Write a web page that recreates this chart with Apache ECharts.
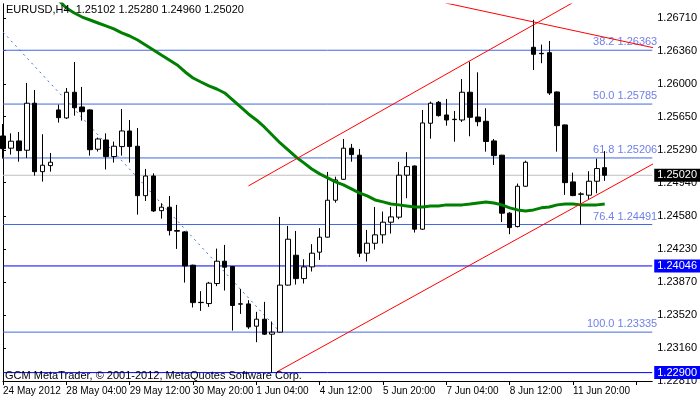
<!DOCTYPE html>
<html><head><meta charset="utf-8">
<script src="https://cdn.jsdelivr.net/npm/echarts@6/dist/echarts.min.js"></script>
<style>html,body{margin:0;padding:0;background:#fff}#c{width:700px;height:402px}</style>
</head><body><div id="c"></div>
<script>
const tickLabels = {0:'24 May 2012',8:'28 May 04:00',16:'29 May 12:00',24:'30 May 20:00',32:'1 Jun 04:00',40:'4 Jun 12:00',48:'5 Jun 20:00',56:'7 Jun 04:00',64:'8 Jun 12:00',72:'11 Jun 20:00'};
const priceTicks = [1.26710,1.26360,1.26000,1.25650,1.25290,1.24940,1.24580,1.24230,1.23870,1.23520,1.23160,1.22810];
const opens  = [1.25442,1.25311,1.25389,1.25289,1.25794,1.25059,1.25124,1.25722,1.25636,1.25912,1.25754,1.25722,1.25300,1.25399,1.25221,1.25328,1.25496,1.25332,1.24801,1.25012,1.24640,1.24677,1.24426,1.24412,1.24054,1.23652,1.23642,1.23857,1.24097,1.24039,1.23635,1.23638,1.23399,1.23474,1.23313,1.23335,1.23840,1.24161,1.23910,1.24036,1.24194,1.24355,1.24752,1.24977,1.25311,1.25236,1.24183,1.24290,1.24380,1.24516,1.24570,1.25021,1.25120,1.24441,1.25579,1.25804,1.25668,1.25622,1.25614,1.25912,1.25646,1.25600,1.25389,1.25236,1.24613,1.24469,1.24902,1.26395,1.26330,1.26337,1.25915,1.25561,1.24949,1.24816,1.24806,1.24956,1.25102];
const highs  = [1.25571,1.25471,1.25485,1.26012,1.25936,1.25461,1.25260,1.25779,1.25958,1.26237,1.25969,1.25730,1.25425,1.25471,1.25382,1.25732,1.25614,1.25528,1.25088,1.25041,1.24720,1.24798,1.24702,1.24420,1.24060,1.23775,1.23875,1.24232,1.24272,1.24045,1.23797,1.23678,1.23553,1.23660,1.23449,1.24573,1.24476,1.24422,1.24118,1.24280,1.24452,1.25056,1.25005,1.25410,1.25357,1.25303,1.24433,1.24680,1.24630,1.24680,1.25164,1.25268,1.25126,1.25722,1.25811,1.25818,1.25840,1.25711,1.26054,1.26240,1.26126,1.25740,1.25410,1.25240,1.24624,1.24931,1.25177,1.26690,1.26424,1.26463,1.25920,1.25565,1.25048,1.24838,1.25064,1.25199,1.25280];
const lows   = [1.25199,1.25242,1.25166,1.25206,1.25016,1.24952,1.25059,1.25586,1.25625,1.25660,1.25607,1.25231,1.25275,1.25082,1.25157,1.25231,1.25157,1.24597,1.24744,1.24626,1.24554,1.24373,1.24229,1.23867,1.23600,1.23563,1.23606,1.23829,1.23782,1.23352,1.23531,1.23370,1.23227,1.23305,1.22900,1.23330,1.23835,1.23846,1.23857,1.23986,1.24111,1.24350,1.24726,1.24970,1.25166,1.24141,1.24093,1.24222,1.24287,1.24394,1.24548,1.24774,1.24405,1.24434,1.25413,1.25650,1.25553,1.25381,1.25593,1.25439,1.25547,1.25274,1.25131,1.24517,1.24387,1.24460,1.24895,1.26151,1.26224,1.25883,1.25274,1.24809,1.24795,1.24491,1.24759,1.24827,1.24960];
const closes = [1.25306,1.25386,1.25285,1.25794,1.25059,1.25128,1.25160,1.25639,1.25912,1.25746,1.25703,1.25295,1.25410,1.25221,1.25332,1.25496,1.25328,1.24801,1.25012,1.24637,1.24677,1.24426,1.24420,1.24046,1.23652,1.23655,1.23861,1.24097,1.24033,1.23621,1.23640,1.23391,1.23474,1.23313,1.23335,1.23840,1.24333,1.23910,1.24036,1.24183,1.24355,1.24752,1.24970,1.25311,1.25242,1.24183,1.24290,1.24380,1.24516,1.24573,1.25021,1.25113,1.24441,1.25582,1.25794,1.25661,1.25614,1.25618,1.25912,1.25643,1.25596,1.25383,1.25231,1.24613,1.24458,1.24902,1.25160,1.26320,1.26326,1.25904,1.25553,1.24941,1.24802,1.24820,1.24956,1.25092,1.25020];
const maValues = [null,null,null,null,null,null,null,1.26903,1.26817,1.26763,1.26720,1.26688,1.26656,1.26624,1.26592,1.26549,1.26516,1.26473,1.26420,1.26366,1.26312,1.26259,1.26205,1.26130,1.26065,1.26022,1.25980,1.25947,1.25904,1.25829,1.25754,1.25679,1.25614,1.25539,1.25453,1.25367,1.25292,1.25217,1.25153,1.25088,1.25035,1.24992,1.24949,1.24917,1.24874,1.24831,1.24798,1.24755,1.24734,1.24712,1.24702,1.24691,1.24680,1.24680,1.24691,1.24691,1.24702,1.24702,1.24702,1.24712,1.24723,1.24734,1.24723,1.24702,1.24670,1.24648,1.24637,1.24648,1.24670,1.24680,1.24702,1.24712,1.24712,1.24702,1.24702,1.24702,1.24712];
const fibLevels = [['38.2',1.26363],['50.0',1.25785],['61.8',1.25206],['76.4',1.24491],['100.0',1.23335]];
const blueLevels = [1.24046,1.22900];
const bidPrice = 1.25020;
const fibTrend = [[0,1.26559],[35,1.23335]];
const redLower = [[34.6,1.22909],[82.1,1.25142]];
const redUpper = [[31.0,1.24906],[71.9,1.26871]];
const redDown  = [[55.9,1.26871],[82.1,1.26391]];
const nCats = 83;

const cats = []; for (let i=0;i<nCats;i++) cats.push(String(i));
const candles = opens.map((o,i)=>[o,closes[i],lows[i],highs[i]]);
const F = 'Liberation Sans';
const YMIN = 1.2281, YMAX = 1.2686;
const hl = [];
fibLevels.forEach(([n,v])=>hl.push({type:'line',xAxisIndex:1,data:[[0,v],[nCats-1,v]],showSymbol:false,z:3,
  lineStyle:{color:'#4169e1',width:1},
  endLabel:{show:true,offset:[-3,-8],align:'right',formatter:n+' '+v.toFixed(5),color:'#7080e8',fontFamily:F,fontSize:11}}));
const boxes = [[blueLevels[0],'#0000ff','#0000ff'],[blueLevels[1],'#0000ff','#0000ff'],[bidPrice,'#c0c0c0','#000']];
boxes.forEach(([v,lc,bg])=>hl.push({type:'line',xAxisIndex:1,data:[[0,v],[nCats-1,v]],showSymbol:false,z:3,
  lineStyle:{color:lc,width:1},
  endLabel:{show:true,distance:2,formatter:v.toFixed(5),color:'#fff',backgroundColor:bg,padding:[1,3,1,3],fontFamily:F,fontSize:11}}));

const chart = echarts.init(document.getElementById('c'),null,{renderer:'canvas'});
chart.setOption({
  animation:false, backgroundColor:'#fff',
  grid:{left:3,right:40,top:4,bottom:21},
  xAxis:[{type:'category',data:cats,boundaryGap:false,
    axisLine:{lineStyle:{color:'#000'}},
    axisTick:{show:true,interval:7,length:4,lineStyle:{color:'#000'}},
    axisLabel:{interval:7,showMinLabel:true,hideOverlap:false,align:'left',margin:5,color:'#000',fontFamily:F,fontSize:10,formatter:(v)=>tickLabels[+v]||''},
    splitLine:{show:false}},
    {type:'value',min:0,max:nCats-1,show:false}],
  yAxis:[{type:'value',min:YMIN,max:YMAX,position:'right',
    axisLine:{show:true,lineStyle:{color:'#000'}},
    axisTick:{show:true,length:3,customValues:priceTicks,lineStyle:{color:'#000'}},
    axisLabel:{customValues:priceTicks,formatter:v=>v.toFixed(5),color:'#000',fontFamily:F,fontSize:11,margin:5},
    splitLine:{show:false}},
    {type:'value',min:YMIN,max:YMAX,position:'left',axisLine:{show:true,lineStyle:{color:'#000'}},axisTick:{show:false},axisLabel:{show:false},splitLine:{show:false}}],
  series:hl.concat([
    {type:'candlestick',data:candles,barWidth:5,z:4,
      itemStyle:{color:'#fff',color0:'#000',borderColor:'#000',borderColor0:'#000',borderWidth:1}},
    {type:'line',data:maValues,showSymbol:false,lineStyle:{color:'#008000',width:3},z:5},
    {type:'line',xAxisIndex:1,data:fibTrend,showSymbol:false,lineStyle:{color:'#4169e1',width:1,type:[2,4]},z:4},
    {type:'line',xAxisIndex:1,data:redLower,showSymbol:false,lineStyle:{color:'#ff0000',width:1},z:6},
    {type:'line',xAxisIndex:1,data:redUpper,showSymbol:false,lineStyle:{color:'#ff0000',width:1},z:6},
    {type:'line',xAxisIndex:1,data:redDown,showSymbol:false,lineStyle:{color:'#ff0000',width:1},z:6}
  ]),
  graphic:[
    {type:'text',left:6,top:4,style:{text:'EURUSD,H4  1.25102 1.25280 1.24960 1.25020',fill:'#000',font:'11px '+F},z:10},
    {type:'text',left:5,top:370,style:{text:'GCM MetaTrader, © 2001-2012, MetaQuotes Software Corp.',fill:'#000',font:'11px '+F},z:10}
  ]
});
</script></body></html>
